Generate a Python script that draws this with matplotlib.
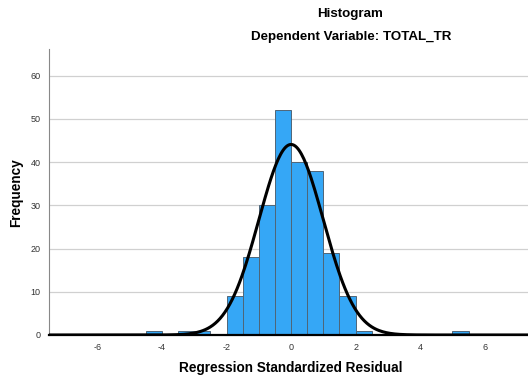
import numpy as np
import matplotlib
matplotlib.use("Agg")
import matplotlib.pyplot as plt

plt.rcParams['font.family'] = ['Liberation Sans', 'DejaVu Sans']
plt.rcParams['axes.unicode_minus'] = False

# histogram bins (left edges, width 0.5) and counts
bin_left = [-4.5, -3.5, -3.0, -2.0, -1.5, -1.0, -0.5, 0.0, 0.5, 1.0, 1.5, 2.0, 5.0]
counts = [1, 1, 1, 9, 18, 30, 52, 40, 38, 19, 9, 1, 1]
bin_width = 0.5

# normal curve parameters (SPSS)
res_mean = 0.0
res_std = 0.995
n_obs = sum(counts)

fig = plt.figure(figsize=(5.28, 3.79), dpi=100)
ax = fig.add_axes([49/528, 44/379, 1 - 49/528, (335 - 49)/379])

ax.bar(bin_left, counts, width=bin_width, align='edge', color='#35a7f6',
       edgecolor='#4f6577', linewidth=0.7, zorder=2)

xs = np.linspace(-7.5, 7.5, 400)
ys = n_obs * bin_width / (res_std * np.sqrt(2 * np.pi)) * np.exp(-0.5 * ((xs - res_mean) / res_std) ** 2)
ax.plot(xs, ys, color='black', linewidth=2.2, zorder=3)

ax.set_xlim(-7.5, 7.34)
ax.set_ylim(0, 66.2)
ax.set_yticks(range(0, 61, 10))
ax.set_xticks([-6, -4, -2, 0, 2, 4, 6])
ax.yaxis.grid(True, color='#d0d0d0', linewidth=0.9, zorder=0)
ax.set_axisbelow(True)

for s in ['top', 'right']:
    ax.spines[s].set_visible(False)
ax.spines['left'].set_color('#888888')
ax.spines['left'].set_linewidth(0.8)
ax.spines['bottom'].set_color('black')
ax.spines['bottom'].set_linewidth(1.6)
ax.tick_params(length=0, labelsize=6.5, labelcolor='#333333', pad=6)

fig.text(291/528, 1 - 368/379, 'Regression Standardized Residual', ha='center', va='center',
         fontsize=9.8, fontweight='bold')
fig.text(16/528, 1 - 193/379, 'Frequency', ha='center', va='center', rotation=90,
         fontsize=9.8, fontweight='bold')

fig.text(350/528, 1 - 14/379, 'Histogram', ha='center', va='center', fontsize=9.6, fontweight='bold')
fig.text(351/528, 1 - 37/379, 'Dependent Variable: TOTAL_TR', ha='center', va='center',
         fontsize=9.6, fontweight='bold')

fig.savefig('out.png', dpi=100)
